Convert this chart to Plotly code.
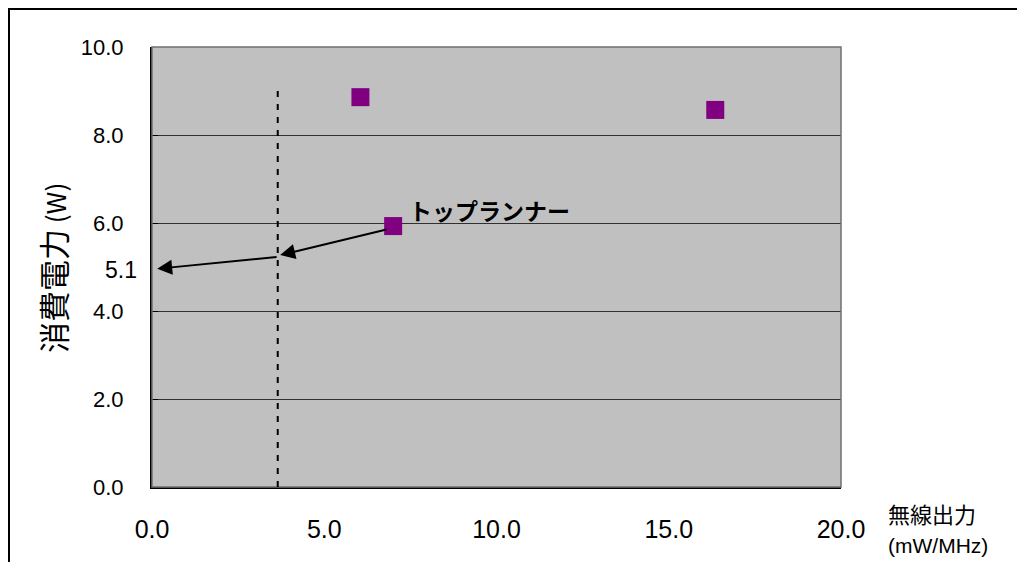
import plotly.graph_objects as go

# Data
power_x = [6.05, 16.35, 7.0]      # 無線出力 (mW/MHz)
power_y = [8.86, 8.57, 5.93]      # 消費電力 (W)
x_ticks = [0.0, 5.0, 10.0, 15.0, 20.0]
y_ticks = [0.0, 2.0, 4.0, 6.0, 8.0, 10.0]
dash_x = 3.65
dash_top = 9.0
arrow1 = dict(tail=(6.85, 5.86), head=(3.72, 5.27))
arrow2 = dict(tail=(3.66, 5.23), head=(0.15, 4.96))
target_label = "5.1"
runner_label = "トップランナー"

# page body has an 8px margin; work in screen pixels and shift
OFF = 8
W, H = 1025 - OFF, 562 - OFF
PX0, PX1, PY0, PY1 = 152, 841, 487, 47
def px(p):
    return (p - PX0) / (PX1 - PX0)
def py(p):
    return (PY0 - p) / (PY0 - PY1)

LAT = "Liberation Sans, Arial, sans-serif"
JP = "Noto Sans CJK JP, sans-serif"

fig = go.Figure()
fig.add_trace(go.Scatter(
    x=power_x, y=power_y, mode="markers",
    marker=dict(symbol="square", size=18, color="#800080", line=dict(width=0)),
    showlegend=False, hoverinfo="x+y",
))

shapes = [
    # outer frame
    dict(type="rect", xref="paper", yref="paper", x0=px(9), x1=px(1100), y0=py(600), y1=py(9),
         line=dict(color="black", width=2), layer="below"),
    # plot frame (gray top/right)
    dict(type="rect", xref="paper", yref="paper", x0=0, x1=1, y0=0, y1=1,
         line=dict(color="#707070", width=1.5), layer="above"),
    # dashed vertical line
    dict(type="line", xref="x", yref="y", x0=dash_x, x1=dash_x, y0=0, y1=dash_top,
         line=dict(color="black", width=2, dash="6px,7px")),
]

annotations = [
    dict(x=arrow1["head"][0], y=arrow1["head"][1], ax=arrow1["tail"][0], ay=arrow1["tail"][1],
         xref="x", yref="y", axref="x", ayref="y", text="", showarrow=True,
         arrowhead=2, arrowsize=1.5, arrowwidth=2, arrowcolor="black"),
    dict(x=arrow2["head"][0], y=arrow2["head"][1], ax=arrow2["tail"][0], ay=arrow2["tail"][1],
         xref="x", yref="y", axref="x", ayref="y", text="", showarrow=True,
         arrowhead=2, arrowsize=1.5, arrowwidth=2, arrowcolor="black"),
    dict(x=px(121), y=py(270), xref="paper", yref="paper", text=target_label, showarrow=False,
         font=dict(family=LAT, size=23, color="black"), xanchor="center", yanchor="middle"),
    dict(x=px(489), y=py(210), xref="paper", yref="paper", text="<b>" + runner_label + "</b>",
         showarrow=False, font=dict(family=JP, size=23, color="black"),
         xanchor="center", yanchor="middle"),
    dict(x=px(52), y=py(268), xref="paper", yref="paper", textangle=-90,
         text="消費電力<span style='font-size:26px'> (W)</span>", showarrow=False,
         font=dict(family=JP, size=31, color="black"), xanchor="center", yanchor="middle"),
    dict(x=px(886), y=py(513), xref="paper", yref="paper", text="無線出力", showarrow=False,
         font=dict(family=JP, size=22, color="black"), xanchor="left", yanchor="middle"),
    dict(x=px(886), y=py(545), xref="paper", yref="paper", text="(mW/MHz)", showarrow=False,
         font=dict(family=LAT, size=21, color="black"), xanchor="left", yanchor="middle"),
]

fig.update_layout(
    width=W, height=H,
    margin=dict(l=PX0 - OFF, r=W - (PX1 - OFF), t=PY1 - OFF, b=H - (PY0 - OFF), pad=0),
    paper_bgcolor="white", plot_bgcolor="#C0C0C0",
    shapes=shapes, annotations=annotations,
    showlegend=False,
    xaxis=dict(range=[0, 20], tickvals=x_ticks, ticktext=[f"{v:.1f}" for v in x_ticks],
               showgrid=False, zeroline=False, showline=True, linecolor="black", linewidth=2,
               ticks="", ticklabelstandoff=19,
               tickfont=dict(family=LAT, size=25, color="black"), fixedrange=True),
    yaxis=dict(range=[0, 10], tickvals=y_ticks, ticktext=[f"{v:.1f}" for v in y_ticks],
               showgrid=True, gridcolor="#303030", gridwidth=1, zeroline=False,
               showline=True, linecolor="black", linewidth=2,
               ticks="inside", ticklen=6, tickcolor="black", ticklabelstandoff=22,
               tickfont=dict(family=LAT, size=22, color="black"), fixedrange=True),
)

fig.write_html("out.html")
